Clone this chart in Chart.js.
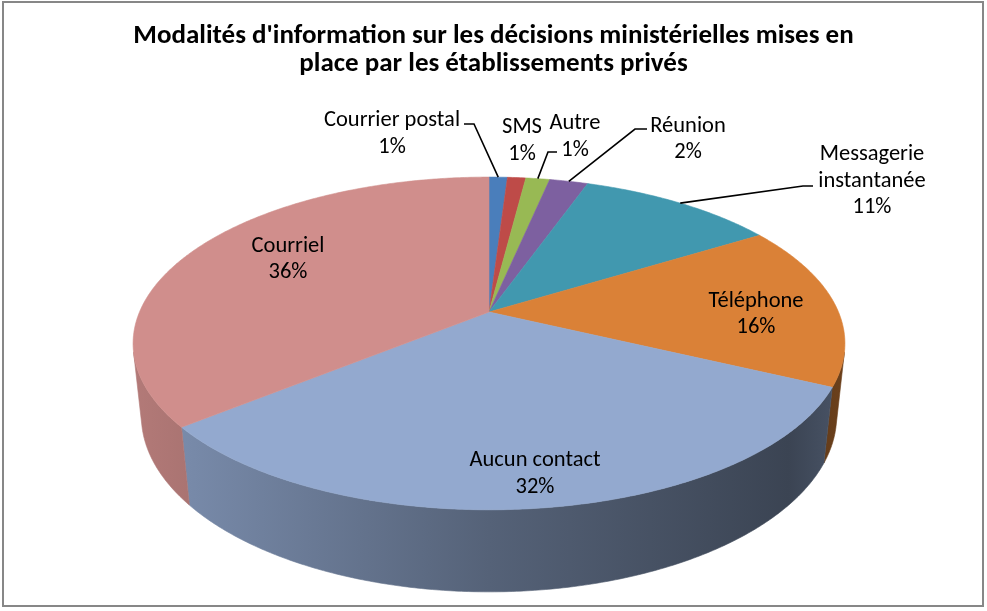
<!DOCTYPE html>
<html><head><meta charset="utf-8">
<script src="https://cdn.jsdelivr.net/npm/chart.js@4/dist/chart.umd.min.js"></script>
<style>html,body{margin:0;padding:0;background:#fff;}#wrap{width:987px;height:611px;position:relative;}</style>
</head><body><div id="wrap"><canvas id="c" width="987" height="611"></canvas></div>
<script>
const categories = ["Courrier postal","SMS","Autre","Réunion","Messagerie instantanée","Téléphone","Aucun contact","Courriel"];
const values = [1.0, 1.0, 1.3, 2.1, 10.8, 15.9, 32.0, 35.9];
const labelLines = [["Courrier postal"],["SMS"],["Autre"],["Réunion"],["Messagerie","instantanée"],["Téléphone"],["Aucun contact"],["Courriel"]];
const colors = ["#4A7EBB","#BE4B48","#98B954","#7D60A0","#4198AF","#DA8137","#93A9CF","#D08E8C"];
const titleLines = ["Modalités d'information sur les décisions ministérielles mises en","place par les établissements privés"];

const FONT = "Carlito, Lato, sans-serif";
const VIEW = {cx:489, cy:312, A:349.5, D:4.70, sinA:0.459, H:0.235};
// label anchor: [centre x, first-line baseline]
const labelPos = [[392,126],[522,133],[575,129],[688,131.5],[872,160],[756,306.5],[535,466],[288,251.5]];
const leaders = {0:[[464,124],[474,124]], 2:[[557,152],[548,152]], 3:[[647,129],[635,129]], 4:[[813,186],[803,186]]};

function proj(theta, r, h){
  const v=VIEW, cosA=Math.sqrt(1-v.sinA*v.sinA);
  const px=r*Math.sin(theta), pz=-r*Math.cos(theta), py=h;
  const d=v.D-(py*v.sinA+pz*cosA);
  const up=py*cosA-pz*v.sinA;
  const F=v.A*v.D;
  return [v.cx+px*F/d, v.cy-up*F/d];
}
function shade(hex,f){
  const n=parseInt(hex.slice(1),16);
  const r=Math.round(((n>>16)&255)*f), g=Math.round(((n>>8)&255)*f), b=Math.round((n&255)*f);
  return `rgb(${r},${g},${b})`;
}

const pie3d = {
  id:'pie3d',
  beforeDraw(chart){
    const ctx=chart.ctx;
    ctx.save();
    ctx.fillStyle='#fff'; ctx.fillRect(0,0,chart.width,chart.height);
    ctx.strokeStyle='#878787'; ctx.lineWidth=2;
    ctx.strokeRect(3,2,980,604);
    ctx.restore();
  },
  beforeDatasetsDraw(chart){
    const ctx=chart.ctx, meta=chart.getDatasetMeta(0), v=VIEW;
    const cosA=Math.sqrt(1-v.sinA*v.sinA);
    const tv1=Math.acos(-1/(v.D*cosA)), tv2=2*Math.PI-tv1;
    const step=Math.PI/360;
    ctx.save();
    // side walls
    meta.data.forEach((arc,i)=>{
      const t1=arc.startAngle+Math.PI/2, t2=arc.endAngle+Math.PI/2;
      const a=Math.max(t1,tv1), b=Math.min(t2,tv2);
      if(b<=a) return;
      ctx.beginPath();
      let p=proj(a,1,0); ctx.moveTo(p[0],p[1]);
      for(let t=a;t<b;t+=step){p=proj(t,1,0);ctx.lineTo(p[0],p[1]);}
      p=proj(b,1,0);ctx.lineTo(p[0],p[1]);
      for(let t=b;t>a;t-=step){p=proj(t,1,-v.H);ctx.lineTo(p[0],p[1]);}
      p=proj(a,1,-v.H);ctx.lineTo(p[0],p[1]);
      ctx.closePath();
      const g=ctx.createLinearGradient(v.cx-v.A*1.02,0,v.cx+v.A*1.02,0);
      const c=colors[i];
      g.addColorStop(0,shade(c,0.86));
      g.addColorStop(0.5,shade(c,0.58));
      g.addColorStop(0.92,shade(c,0.40));
      g.addColorStop(1,shade(c,0.50));
      ctx.fillStyle=g; ctx.strokeStyle=g; ctx.lineWidth=0.6;
      ctx.fill(); ctx.stroke();
    });
    // top faces
    meta.data.forEach((arc,i)=>{
      const t1=arc.startAngle+Math.PI/2, t2=arc.endAngle+Math.PI/2;
      ctx.beginPath();
      ctx.moveTo(v.cx,v.cy);
      for(let t=t1;t<t2;t+=step){const p=proj(t,1,0);ctx.lineTo(p[0],p[1]);}
      const p=proj(t2,1,0);ctx.lineTo(p[0],p[1]);
      ctx.closePath();
      ctx.fillStyle=colors[i]; ctx.strokeStyle=colors[i]; ctx.lineWidth=0.6;
      ctx.fill(); ctx.stroke();
    });
    // labels and leader lines
    const total=values.reduce((s,x)=>s+x,0);
    ctx.fillStyle='#000'; ctx.textAlign='center'; ctx.textBaseline='alphabetic';
    ctx.font=`22.5px ${FONT}`;
    meta.data.forEach((arc,i)=>{
      const lines=labelLines[i].concat([Math.round(values[i]/total*100)+'%']);
      lines.forEach((s,j)=>ctx.fillText(s,labelPos[i][0],labelPos[i][1]+j*26.6));
      if(leaders[i]){
        const mid=(arc.startAngle+arc.endAngle)/2+Math.PI/2;
        const e=proj(mid,1,0);
        ctx.beginPath(); ctx.strokeStyle='#000'; ctx.lineWidth=1.6;
        ctx.moveTo(leaders[i][0][0],leaders[i][0][1]);
        ctx.lineTo(leaders[i][1][0],leaders[i][1][1]);
        ctx.lineTo(e[0],e[1]); ctx.stroke();
      }
    });
    ctx.restore();
    return false;
  }
};

new Chart(document.getElementById('c'),{
  type:'pie',
  data:{labels:categories,datasets:[{data:values,backgroundColor:colors,borderWidth:0}]},
  options:{
    responsive:false, animation:false, devicePixelRatio:1,
    layout:{padding:{left:0,right:0,top:0,bottom:20}},
    plugins:{
      legend:{display:false}, tooltip:{enabled:false},
      title:{display:true,text:titleLines,color:'#000',font:{family:FONT,size:27,weight:'bold',lineHeight:'28px'},padding:{top:21.8,bottom:10}}
    }
  },
  plugins:[pie3d]
});
</script></body></html>
